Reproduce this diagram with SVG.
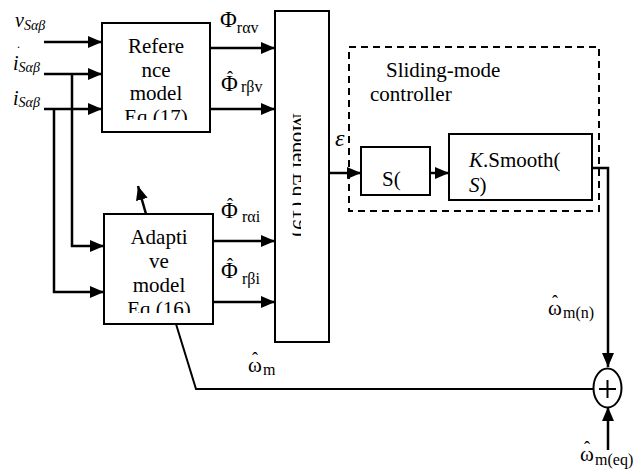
<svg xmlns="http://www.w3.org/2000/svg" width="642" height="474" viewBox="0 0 642 474">
<style>
text{font-family:"Liberation Serif",Tinos,"Times New Roman","DejaVu Serif",serif;fill:#000}
.blk{fill:#fff;stroke:#000;stroke-width:2}
.t{font-size:21px}
.c{text-anchor:middle}
.ln{fill:none;stroke:#000;stroke-width:2.5}
.thin{fill:none;stroke:#000;stroke-width:2}
.sub{font-size:16px}
.phi{font-size:23px}
.it{font-style:italic}
.hat{font-size:18px}
</style>
<defs>
<marker id="ah" viewBox="0 0 14 12" refX="14" refY="6" markerWidth="14" markerHeight="12" markerUnits="userSpaceOnUse" orient="auto">
<path d="M0,0 L14,6 L0,12 Z" fill="#000"/>
</marker>
<clipPath id="cRef"><rect x="103" y="24" width="106" height="96"/></clipPath>
<clipPath id="cAd"><rect x="105" y="215" width="107" height="98"/></clipPath>
<clipPath id="cMod"><rect x="292.5" y="12" width="8.5" height="231"/></clipPath>
</defs>

<g id="connectors">
<line class="ln" x1="44" y1="42" x2="102" y2="42" marker-end="url(#ah)"/>
<line class="ln" x1="44" y1="74" x2="102" y2="74" marker-end="url(#ah)"/>
<line class="ln" x1="44" y1="109" x2="102" y2="109" marker-end="url(#ah)"/>
<polyline class="ln" points="72,74 72,246 104,246" marker-end="url(#ah)"/>
<polyline class="ln" points="54,109 54,292 104,292" marker-end="url(#ah)"/>
<line class="ln" x1="210" y1="48" x2="275" y2="48" marker-end="url(#ah)"/>
<line class="ln" x1="210" y1="109" x2="275" y2="109" marker-end="url(#ah)"/>
<line class="ln" x1="213" y1="241" x2="275" y2="241" marker-end="url(#ah)"/>
<line class="ln" x1="213" y1="302" x2="275" y2="302" marker-end="url(#ah)"/>
<line class="ln" x1="146" y1="214" x2="138" y2="186" marker-end="url(#ah)"/>
<line class="ln" x1="329" y1="173" x2="361" y2="173" marker-end="url(#ah)"/>
<line class="ln" x1="430" y1="173" x2="449" y2="173" marker-end="url(#ah)"/>
<polyline class="ln" points="592,168 608,168 608,367" marker-end="url(#ah)"/>
<line class="ln" x1="608" y1="450" x2="608" y2="407" marker-end="url(#ah)"/>
<polyline class="thin" points="176,324 196,389 593,389"/>
</g>

<g id="inputs">
<text x="15" y="27" class="it" font-size="20">v<tspan dy="3" font-size="14">Sαβ</tspan></text>
<text x="17" y="48" font-size="12">.</text>
<text x="13" y="70" class="it" font-size="20">i<tspan dy="2" font-size="14">Sαβ</tspan></text>
<text x="13" y="105" class="it" font-size="20">i<tspan dy="2" font-size="14">Sαβ</tspan></text>
</g>

<g id="reference-model">
<rect class="blk" x="102" y="23" width="108" height="109"/>
<g clip-path="url(#cRef)">
<text class="t c" x="156" y="53">Refere</text>
<text class="t c" x="156" y="77">nce</text>
<text class="t c" x="156" y="100">model</text>
<text class="t c" x="156" y="124">Eq (17)</text>
</g>
</g>

<g id="adaptive-model">
<rect class="blk" x="104" y="214" width="109" height="110"/>
<g clip-path="url(#cAd)">
<text class="t c" x="159" y="244">Adapti</text>
<text class="t c" x="159" y="268">ve</text>
<text class="t c" x="159" y="292">model</text>
<text class="t c" x="159" y="316">Eq (16)</text>
</g>
</g>

<g id="flux-labels">
<text x="220" y="27" class="phi">Φ<tspan class="sub" dy="6">rαv</tspan></text>
<text x="221" y="91" class="phi">Φ<tspan class="hat" x="227" dy="-7">ˆ</tspan><tspan class="sub" x="241" dy="8">rβv</tspan></text>
<text x="221" y="218" class="phi">Φ<tspan class="hat" x="227" dy="-7">ˆ</tspan><tspan class="sub" x="242" dy="11">rαi</tspan></text>
<text x="221" y="278" class="phi">Φ<tspan class="hat" x="227" dy="-7">ˆ</tspan><tspan class="sub" x="242" dy="13">rβi</tspan></text>
</g>

<g id="model-block">
<rect class="blk" x="275" y="11" width="54" height="331"/>
<g clip-path="url(#cMod)">
<text class="t" x="0" y="0" transform="translate(293,113) rotate(90)">Model Eq (19)</text>
</g>
</g>

<g id="sliding-mode-controller">
<rect x="349" y="47" width="250" height="164" fill="none" stroke="#000" stroke-width="2" stroke-dasharray="7,5"/>
<text class="t" x="386" y="77">Sliding-mode</text>
<text class="t" x="370" y="101">controller</text>
<text x="335" y="146" class="it" font-size="24">ε</text>
</g>

<g id="s-block">
<rect class="blk" x="361" y="147" width="69" height="48"/>
<text class="t" x="382" y="186">S(</text>
</g>

<g id="smooth-block">
<rect class="blk" x="449" y="134" width="143" height="66"/>
<text class="t" x="469" y="167"><tspan class="it">K</tspan>.Smooth(</text>
<text class="t" x="469" y="192"><tspan class="it">S</tspan>)</text>
</g>

<g id="sum">
<ellipse cx="607.5" cy="388" rx="14" ry="19.5" fill="#fff" stroke="#000" stroke-width="2"/>
<line x1="599" y1="389" x2="616" y2="389" stroke="#000" stroke-width="2"/>
<line x1="607.5" y1="380" x2="607.5" y2="398" stroke="#000" stroke-width="2"/>
</g>

<g id="speed-labels">
<text x="248" y="372" font-size="21">ω<tspan class="hat" x="252" dy="-7">ˆ</tspan><tspan class="sub" x="263" dy="10">m</tspan></text>
<text x="548" y="315" font-size="21">ω<tspan class="hat" x="552" dy="-7">ˆ</tspan><tspan class="sub" x="563" dy="10">m(n)</tspan></text>
<text x="580" y="461" font-size="21">ω<tspan class="hat" x="584" dy="-7">ˆ</tspan><tspan class="sub" x="595" dy="11">m(eq)</tspan></text>
</g>
</svg>
